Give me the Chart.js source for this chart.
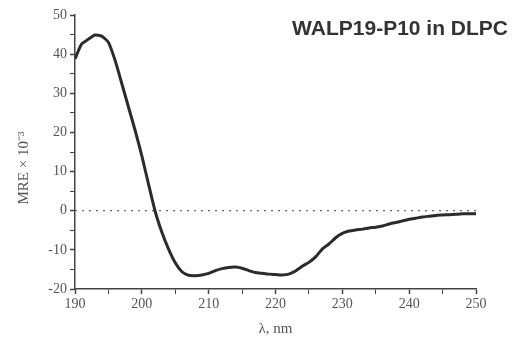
<!DOCTYPE html>
<html>
<head>
<meta charset="utf-8">
<script src="https://cdn.jsdelivr.net/npm/chart.js@4"></script>
<style>
  html, body { margin: 0; padding: 0; background: #fff; }
  #wrap { width: 512px; height: 338px; }
</style>
</head>
<body>
<div id="wrap"><canvas id="myChart" width="512" height="338"></canvas></div>
<script>
// wavelength (nm) and mean residue ellipticity (x 10^-3)
var wavelengths = [190, 191, 192, 193, 194, 195, 196, 197, 198, 199,
    200, 201, 202, 203, 204, 205, 206, 207, 208, 209,
    210, 211, 212, 213, 214, 215, 216, 217, 218, 219,
    220, 221, 222, 223, 224, 225, 226, 227, 228, 229,
    230, 231, 232, 233, 234, 235, 236, 237, 238, 239,
    240, 241, 242, 243, 244, 245, 246, 247, 248, 249, 250];
var mreValues = [38.8, 42.6, 43.8, 44.9, 44.6, 43.0, 38.4, 32.5, 26.5, 20.5,
    14.0, 6.8, -0.2, -5.5, -9.8, -13.3, -15.6, -16.5, -16.6, -16.4,
    -16.0, -15.3, -14.8, -14.5, -14.4, -14.7, -15.3, -15.8, -16.0, -16.2,
    -16.3, -16.4, -16.2, -15.4, -14.2, -13.2, -11.8, -9.8, -8.5, -6.9,
    -5.8, -5.2, -4.9, -4.7, -4.4, -4.2, -3.9, -3.4, -3.0, -2.6,
    -2.2, -1.9, -1.6, -1.4, -1.2, -1.1, -1.0, -0.9, -0.8, -0.8, -0.8];
var zeroLineX = [190, 250];
var zeroLineY = [0, 0];

var chartTitle = 'WALP19-P10 in DLPC';
var yTitle = 'MRE \u00d7 10\u207b\u00b3';
var xTitle = '\u03bb, nm';

var textColor = '#555';
var axisColor = '#444';

var ctx = document.getElementById('myChart').getContext('2d');

// title and y label drawn on the canvas so they can sit where the original has them
const labelsPlugin = {
    id: 'labels',
    afterDraw: (chart) => {
        const c = chart.ctx;
        c.save();
        c.fillStyle = '#333';
        c.font = 'bold 21px "Liberation Sans", Arial, sans-serif';
        c.textAlign = 'right';
        c.textBaseline = 'alphabetic';
        c.fillText(chartTitle, 508, 35);

        c.fillStyle = textColor;
        c.font = '15px "Liberation Serif", "Times New Roman", serif';
        c.translate(24, 168);
        c.rotate(-Math.PI / 2);
        c.textAlign = 'center';
        c.textBaseline = 'middle';
        c.fillText(yTitle, 0, 0);
        c.restore();
    }
};

const tickFont = { family: '"Liberation Serif", "Times New Roman", serif', size: 14 };

var myChart = new Chart(ctx, {
    type: 'line',
    data: {
        datasets: [{
            data: wavelengths.map((w, i) => ({ x: w, y: mreValues[i] })),
            borderColor: '#2b2b2b',
            borderWidth: 3,
            pointRadius: 0,
            tension: 0.2,
            order: 1
        },
        {
            data: zeroLineX.map((w, i) => ({ x: w, y: zeroLineY[i] })),
            borderColor: '#666',
            borderWidth: 1.2,
            borderDash: [2, 5],
            pointRadius: 0,
            order: 2
        }]
    },
    options: {
        responsive: false,
        animation: false,
        layout: { padding: { top: 15, right: 36, left: 0, bottom: 0 } },
        plugins: {
            legend: { display: false },
            tooltip: { enabled: false }
        },
        scales: {
            x: {
                type: 'linear',
                min: 190,
                max: 250,
                afterFit: (scale) => { scale.height = 49; },
                ticks: {
                    stepSize: 5,
                    autoSkip: false,
                    maxRotation: 0,
                    color: textColor,
                    font: tickFont,
                    padding: 2,
                    callback: (v) => (v % 10 === 0 ? v : '')
                },
                grid: {
                    drawOnChartArea: false,
                    drawTicks: true,
                    tickLength: 5,
                    tickColor: axisColor,
                    tickWidth: (c) => (c.tick && c.tick.value % 10 === 0 ? 1.5 : 1)
                },
                border: { display: true, color: axisColor, width: 1.5 },
                title: {
                    display: true,
                    text: xTitle,
                    color: textColor,
                    font: { family: '"Liberation Serif", "Times New Roman", serif', size: 15 },
                    padding: { top: 4, bottom: 0 }
                }
            },
            y: {
                min: -20,
                max: 50,
                afterFit: (scale) => { scale.width = 75; },
                ticks: {
                    stepSize: 5,
                    autoSkip: false,
                    color: textColor,
                    font: tickFont,
                    padding: 3,
                    callback: (v) => (v % 10 === 0 ? v : '')
                },
                grid: {
                    drawOnChartArea: false,
                    drawTicks: true,
                    tickLength: 5,
                    tickColor: axisColor,
                    tickWidth: (c) => (c.tick && c.tick.value % 10 === 0 ? 1.5 : 1)
                },
                border: { display: true, color: axisColor, width: 1.5 }
            }
        }
    },
    plugins: [labelsPlugin]
});
</script>
</body>
</html>
